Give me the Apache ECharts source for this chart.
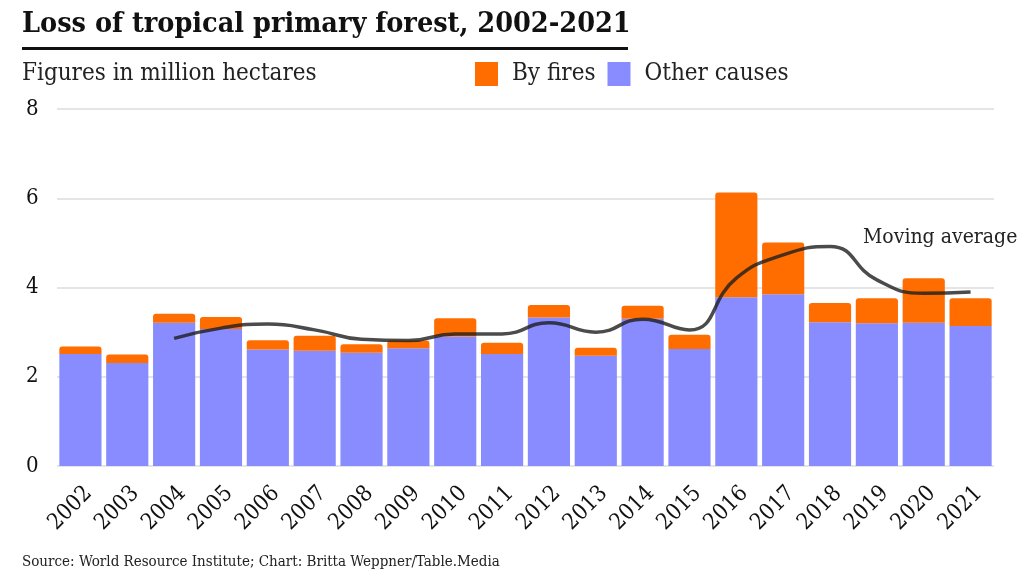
<!DOCTYPE html>
<html>
<head>
<meta charset="utf-8">
<script src="https://cdn.jsdelivr.net/npm/echarts@6/dist/echarts.min.js"></script>
<style>
html,body{margin:0;padding:0;background:#fff;}
#chart{width:1024px;height:576px;}
</style>
</head>
<body>
<div id="chart"></div>
<script>
const years = ['2002','2003','2004','2005','2006','2007','2008','2009','2010','2011','2012','2013','2014','2015','2016','2017','2018','2019','2020','2021'];
const otherCauses = [2.51,2.31,3.21,3.07,2.61,2.58,2.54,2.64,2.90,2.51,3.33,2.47,3.30,2.62,3.78,3.85,3.22,3.20,3.21,3.14];
const totalLoss = [2.68,2.50,3.41,3.34,2.82,2.92,2.73,2.81,3.31,2.76,3.61,2.65,3.59,2.94,6.13,5.01,3.65,3.76,4.21,3.76];
const byFires = totalLoss.map((t,i)=>+(t-otherCauses[i]).toFixed(2));
const movingAverage = [null,null,2.86,3.09,3.18,3.05,2.84,2.81,2.96,2.96,3.21,3.00,3.29,3.05,4.21,4.73,4.92,4.17,3.87,3.90];
const yTicks = [0,2,4,6,8];

const SERIF = "'Roboto Slab','DejaVu Serif Condensed','DejaVu Serif',serif";
const chart = echarts.init(document.getElementById('chart'));
chart.setOption({
  backgroundColor:'#fff',
  animation:false,
  textStyle:{fontFamily:SERIF},
  title:{
    text:'Loss of tropical primary forest, 2002-2021',
    left:22, top:10, padding:0,
    textStyle:{fontFamily:SERIF,fontSize:28.5,fontWeight:'bold',color:'#111'}
  },
  legend:{
    data:['By fires','Other causes'],
    left:475, top:62, padding:0,
    itemWidth:23, itemHeight:24, itemGap:12,
    icon:'rect',
    textStyle:{fontFamily:SERIF,fontSize:24,color:'#222',padding:[0,0,0,9]}
  },
  graphic:[
    {type:'rect',left:22,top:47,shape:{width:606,height:3},style:{fill:'#111'}},
    {type:'text',left:22,top:62,style:{text:'Figures in million hectares',font:"24px "+SERIF,fill:'#222'}},
    {type:'text',left:863,top:227,style:{text:'Moving average',font:"21px "+SERIF,fill:'#222'}},
    {type:'text',left:22,top:555,style:{text:'Source: World Resource Institute; Chart: Britta Weppner/Table.Media',font:"15px "+SERIF,fill:'#222'}}
  ],
  grid:{left:57,right:30,top:109,bottom:110},
  xAxis:{
    type:'category',
    data:years,
    axisLine:{show:false},
    axisTick:{show:false},
    axisLabel:{rotate:45,fontSize:22.5,color:'#111',margin:16,verticalAlign:'top',fontFamily:SERIF}
  },
  yAxis:{
    type:'value',
    min:yTicks[0], max:yTicks[yTicks.length-1], interval:2,
    axisLabel:{fontSize:22,color:'#111',align:'left',margin:31,fontFamily:SERIF},
    splitLine:{lineStyle:{color:'#dddddd',width:1.5}},
    axisLine:{show:false},axisTick:{show:false}
  },
  series:[
    {name:'Other causes',type:'bar',stack:'loss',data:otherCauses,barCategoryGap:'10%',
     itemStyle:{color:'#888cff'}},
    {name:'By fires',type:'bar',stack:'loss',data:byFires,
     itemStyle:{color:'#ff6d00',borderRadius:[3,3,0,0]}},
    {name:'Moving average',type:'line',data:movingAverage,smooth:0.5,symbol:'none',
     lineStyle:{color:'rgba(30,30,30,0.8)',width:3.5},z:5}
  ]
});
</script>
</body>
</html>
